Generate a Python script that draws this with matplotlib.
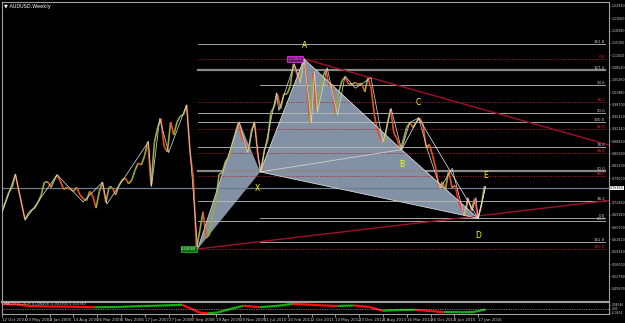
import numpy as np
import pandas as pd
import matplotlib.pyplot as plt
from matplotlib.collections import LineCollection

# ---- data (AUDUSD weekly) ----
start = pd.Timestamp('2003-10-12')

# approx. monthly closes Oct 2003 .. Mar 2016
month_dates = pd.date_range('2003-10-01', periods=150, freq='MS') + pd.Timedelta(days=14)
month_close = [
    0.7050, 0.7270, 0.7520,
    0.7650, 0.8000, 0.7600, 0.7200, 0.6800, 0.6950, 0.7050, 0.7100, 0.7250, 0.7450, 0.7800, 0.7800,
    0.7650, 0.7850, 0.7990, 0.7800, 0.7600, 0.7650, 0.7600, 0.7550, 0.7650, 0.7450, 0.7350, 0.7300,
    0.7550, 0.7400, 0.7100, 0.7550, 0.7790, 0.7250, 0.7650, 0.7650, 0.7450, 0.7700, 0.7850, 0.7900,
    0.7750, 0.7850, 0.8100, 0.8300, 0.8250, 0.8500, 0.8870, 0.7700, 0.8850, 0.9250, 0.9490, 0.8750,
    0.8600, 0.9400, 0.9050, 0.9400, 0.9550, 0.9600, 0.9850, 0.8600, 0.7900, 0.6008, 0.6500, 0.7000,
    0.6300, 0.6400, 0.6950, 0.7250, 0.8000, 0.8050, 0.8350, 0.8450, 0.8800, 0.9100, 0.9400, 0.8950,
    0.8850, 0.8600, 0.9150, 0.9400, 0.8500, 0.8070, 0.8650, 0.8900, 0.9650, 0.9800, 1.0150, 0.9750,
    1.0150, 1.0150, 1.0350, 1.0950, 1.0700, 1.0440, 1.1080, 1.0650, 0.9386, 1.0700, 0.9700, 1.0200,
    1.0600, 1.0800, 1.0350, 1.0400, 0.9600, 1.0200, 1.0500, 1.0600, 1.0400, 1.0400, 1.0450, 1.0400,
    1.0430, 1.0200, 1.0580, 1.0300, 0.9600, 0.9150, 0.8950, 0.8850, 0.9350, 0.9750, 0.9100, 0.8950,
    0.8660, 0.8950, 0.9250, 0.9380, 0.9250, 0.9400, 0.9505, 0.9350, 0.8700, 0.8800, 0.8500, 0.8150,
    0.7650, 0.7800, 0.7600, 0.8100, 0.7650, 0.7700, 0.7300, 0.7100, 0.6907, 0.7350, 0.7050, 0.7350,
    0.6826, 0.7150, 0.7680,
]

# zigzag swing points
zig_dates = ['2003-10-12', '2004-02-15', '2004-05-16', '2005-03-13', '2005-11-13', '2006-05-14',
             '2006-06-25', '2007-07-22', '2007-08-19', '2007-11-04', '2008-01-27', '2008-07-13',
             '2008-10-26', '2009-11-22', '2010-02-07', '2010-04-11', '2010-06-06', '2010-11-07',
             '2010-11-28', '2011-04-24', '2011-06-19', '2011-07-24', '2011-10-02', '2011-10-30',
             '2011-11-27', '2012-02-26', '2012-06-03', '2012-08-12', '2012-11-18', '2013-04-14',
             '2013-08-04', '2013-10-20', '2014-01-26', '2014-04-13', '2014-07-06', '2014-09-28',
             '2015-01-25', '2015-05-17', '2015-09-06', '2015-10-11', '2015-11-22', '2015-12-27',
             '2016-01-17', '2016-03-27']
zig_prices = [0.6970, 0.8007, 0.6776, 0.7990, 0.7265, 0.7790, 0.7210, 0.8878, 0.7676, 0.9493,
              0.8580, 0.9850, 0.6008, 0.9400, 0.8580, 0.9400, 0.8065, 1.0180, 0.9700, 1.0950,
              1.0440, 1.1080, 0.9386, 1.0750, 0.9660, 1.0850, 0.9580, 1.0620, 1.0300, 1.0580,
              0.8850, 0.9760, 0.8660, 0.9380, 0.9505, 0.8650, 0.7630, 0.8160, 0.6907, 0.7380,
              0.7020, 0.7380, 0.6826, 0.7680]

# harmonic pattern points
pat_names = ['L', 'H', 'X', 'A', 'B', 'C', 'D', 'E']
pat_dates = ['2008-10-26', '2009-11-22', '2010-06-06', '2011-07-24', '2014-01-26',
             '2014-07-06', '2016-01-17', '2016-03-27']
pat_prices = [0.6008, 0.9400, 0.8065, 1.1080, 0.8660, 0.9505, 0.6826, 0.7680]

# fibo levels: price, label, kind (w=white, r=red dotted, g=grey thick), start
fib_prices = [1.1480, 1.1080, 1.0786, 1.0385, 0.9931, 0.9638, 0.9398, 0.9211, 0.8730,
              0.8570, 0.8090, 0.7956, 0.7289, 0.6835, 0.6755, 0.6195, 0.6008]
fib_labels = ['161.8', '0.0', '127.2', '23.6', '38.2', '50.0', '100.0', '61.8', '78.6',
              '88.6', '50.0', '88.6', '38.2', '0.0', '23.6', '161.8', '100.0']
fib_kind = ['w', 'r', 'g', 'w', 'r', 'w', 'w', 'r', 'w', 'r', 'g', 'r', 'w', 'w', 'w', 'w', 'r']
fib_start = ['L', 'L', 'L', 'X', 'L', 'L', 'L', 'L', 'L', 'L', 'L', 'L', 'L', 'X', 'L', 'X', 'L']

last_price = 0.7636

price_ticks = [1.24940, 1.21660, 1.18380, 1.15100, 1.11820, 1.08540, 1.05260, 1.01980,
               0.98700, 0.95420, 0.92140, 0.88860, 0.85580, 0.82300, 0.79020, 0.72460,
               0.69180, 0.65900, 0.62620, 0.59340, 0.56060, 0.52780, 0.49500]

date_labels = ['12 Oct 2003', '23 May 2004', '2 Jan 2005', '14 Aug 2005', '26 Mar 2006',
               '5 Nov 2006', '17 Jun 2007', '27 Jan 2008', '7 Sep 2008', '19 Apr 2009',
               '29 Nov 2009', '11 Jul 2010', '20 Feb 2011', '2 Oct 2011', '13 May 2012',
               '23 Dec 2012', '4 Aug 2013', '16 Mar 2014', '26 Oct 2014', '7 Jun 2015',
               '17 Jan 2016']

# oscillator
osc_dates = ['2003-10-12', '2004-03-01', '2004-07-01', '2005-01-01', '2005-08-01', '2006-03-01',
             '2006-10-01', '2007-06-01', '2007-12-01', '2008-06-01', '2008-09-01', '2008-11-15',
             '2009-02-01', '2009-05-01', '2009-09-01', '2010-01-01', '2010-06-01', '2010-11-01',
             '2011-04-01', '2011-08-01', '2012-01-01', '2012-06-01', '2012-11-01', '2013-04-01',
             '2013-08-01', '2014-01-01', '2014-06-01', '2014-11-01', '2015-03-01', '2015-08-01',
             '2015-12-01', '2016-03-27']
osc_vals = [0.047, 0.045, 0.030, 0.025, 0.023, 0.017, 0.020, 0.030, 0.035, 0.042, 0.000, -0.037,
            -0.043, -0.035, 0.000, 0.033, 0.018, 0.030, 0.050, 0.045, 0.037, 0.030, 0.035, 0.020,
            -0.017, -0.010, -0.008, -0.020, -0.033, -0.033, -0.030, -0.005]


def wk(d):
    d = pd.to_datetime(d)
    return np.asarray((d - start).days, dtype=float) / 7.0


mx = wk(month_dates)
my = np.array(month_close)
zx, zy = wk(zig_dates), np.array(zig_prices)
P = {n: (float(wk(d)), p) for n, d, p in zip(pat_names, pat_dates, pat_prices)}

W, H = 625, 323
fig = plt.figure(figsize=(6.25, 3.23), dpi=100, facecolor='black')
ax = fig.add_axes([2 / W, 1 - 302 / H, 607 / W, 300 / H], facecolor='black')
osc = fig.add_axes([2 / W, 1 - 314 / H, 607 / W, 12 / H], facecolor='black')

xmax = (609 - 2) / 0.744
ax.set_xlim(0, xmax)
ax.set_ylim(0.6008 + (249 - 302) * 0.002669, 0.6008 + (249 - 2) * 0.002669)

# pattern shading
shade = '#8292a4'
for tri in (['L', 'H', 'X'], ['X', 'A', 'B'], ['X', 'B', 'D']):
    ax.fill([P[t][0] for t in tri], [P[t][1] for t in tri], color=shade, lw=0, zorder=1)

# fibo lines
xend = (605 - 2) / 0.744
for p, lab, k, s in zip(fib_prices, fib_labels, fib_kind, fib_start):
    x0 = P[s][0]
    if k == 'r':
        ax.plot([x0, xend], [p, p], color='#b0202a', lw=0.7, ls=(0, (1, 1.5)), zorder=2)
        c = '#e02030'
    elif k == 'g':
        ax.plot([x0, xend], [p, p], color='#8a8a8a', lw=1.6, zorder=2)
        c = '#d0d0d0'
    else:
        ax.plot([x0, xend], [p, p], color='#c0c0c0', lw=0.6, zorder=2)
        c = '#d0d0d0'
    ax.text(xend, p + 0.001, lab, color=c, fontsize=2.8, ha='right', va='bottom', zorder=6)

ax.axhline(last_price, color='#6d7b8a', lw=0.9, zorder=2)

# red trend lines
xa, ya = P['A']
xl, yl = P['L']
ax.plot([xa, xmax], [ya, ya - (xmax - xa) * 0.744 * 0.282 * 0.002669], color='#a0102a', lw=1.0, zorder=3)
ax.plot([xl, xmax], [yl, yl + (xmax - xl) * 0.744 * 0.118 * 0.002669], color='#a0102a', lw=1.0, zorder=3)

# price (coloured up/down segments)
segs = np.stack([np.column_stack([mx[:-1], my[:-1]]), np.column_stack([mx[1:], my[1:]])], axis=1)
up = np.diff(my) >= 0
late = mx[1:] > wk('2015-07-01')
cols = np.where(up, '#9aaa3a', np.where(late, '#ff2020', '#e8531c'))
ax.add_collection(LineCollection(segs, colors=cols, linewidths=1.2, zorder=4))

# zigzag + pattern legs
ax.plot(zx, zy, color='#d0d0d0', lw=0.55, zorder=5)
for a, b in [('X', 'A'), ('A', 'B'), ('B', 'C'), ('C', 'D'), ('D', 'E'), ('X', 'B'), ('B', 'D'), ('X', 'D')]:
    ax.plot([P[a][0], P[b][0]], [P[a][1], P[b][1]], color='#e0e0e0', lw=0.55, zorder=5)

# pattern letters
offs = {'X': (-2, -12), 'A': (0, 10), 'B': (0, -11), 'C': (0, 11), 'D': (0, -12), 'E': (0, 8)}
for n, (dx, dy) in offs.items():
    ax.annotate(n, P[n], xytext=(dx, dy), textcoords='offset points', color='#ffff00',
                fontsize=5.5, ha='center', va='center', zorder=7)

# price boxes
ax.text(xa - 2, ya, '1.10800', color='#ff40ff', fontsize=2.6, ha='right', va='center', zorder=7,
        bbox=dict(boxstyle='square,pad=0.15', fc='#602060', ec='#ff40ff', lw=0.5))
ax.text(xl - 2, yl, '0.60080', color='#c8ffc8', fontsize=2.6, ha='right', va='center', zorder=7,
        bbox=dict(boxstyle='square,pad=0.15', fc='#0c6a10', ec='#30c030', lw=0.5))

ax.text(0.004, 0.993, '\u25bc AUDUSD,Weekly', transform=ax.transAxes, color='white',
        fontsize=3.6, ha='left', va='top')

# right price scale
ax.yaxis.tick_right()
ax.set_yticks(price_ticks)
ax.set_yticklabels(['%.5f' % v for v in price_ticks])
ax.tick_params(axis='y', colors='#d0d0d0', labelsize=2.35, length=1, width=0.5, pad=0.8)
ax.set_xticks([])
ax.text(1.002, last_price, '%.5f' % last_price, transform=ax.get_yaxis_transform(),
        color='black', fontsize=2.35, ha='left', va='center',
        bbox=dict(boxstyle='square,pad=0.12', fc='white', ec='none'))
for s in ax.spines.values():
    s.set_color('#a0a0a0')
    s.set_linewidth(0.8)
ax.spines['bottom'].set_linewidth(1.6)

# oscillator
ox, oy = wk(osc_dates), np.array(osc_vals)
osegs = np.stack([np.column_stack([ox[:-1], oy[:-1]]), np.column_stack([ox[1:], oy[1:]])], axis=1)
ocols = np.where(np.diff(oy) >= 0, '#10b010', '#ff1010')
osc.add_collection(LineCollection(osegs, colors=ocols, linewidths=1.6))
osc.axhline(0, color='#d0d0d0', lw=0.5, ls=(0, (1, 1.5)))
osc.set_xlim(0, xmax)
osc.set_ylim(-0.05, 0.07)
osc.text(0.004, 0.97, 'MACD(12,26,9) 0.006458 -0.003905 0.010363', transform=osc.transAxes,
         color='#d0d0d0', fontsize=2.5, ha='left', va='top')
osc.yaxis.tick_right()
osc.set_yticks([0.04, 0.0, -0.04])
osc.set_yticklabels(['0.04046', '0.00', '-0.0404'])
osc.tick_params(axis='y', colors='#d0d0d0', labelsize=2.1, length=1, width=0.5, pad=0.8)
osc.set_xticks(np.arange(len(date_labels)) * 32)
osc.set_xticklabels(date_labels)
osc.tick_params(axis='x', colors='#d0d0d0', labelsize=2.9, length=2, width=0.5, pad=1)
for t in osc.get_xticklabels():
    t.set_ha('left')
for s in osc.spines.values():
    s.set_color('#a0a0a0')
    s.set_linewidth(0.8)

fig.savefig('out.png', dpi=100, facecolor='black')
